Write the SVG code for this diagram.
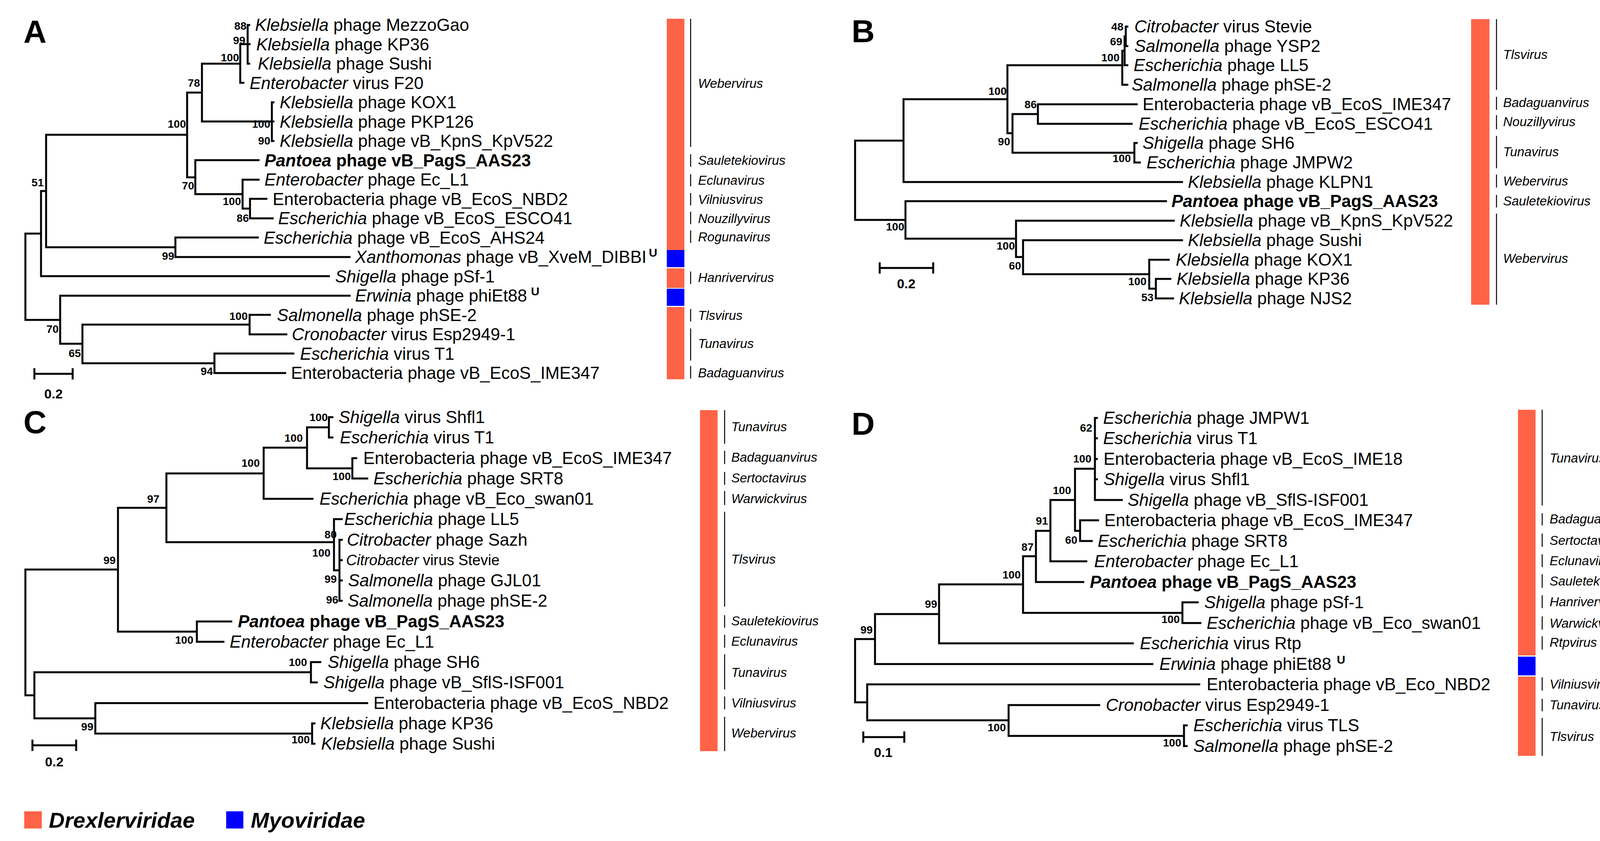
<svg xmlns="http://www.w3.org/2000/svg" width="4222" height="2153" viewBox="0 0 4222 2153">
<style>
.br{stroke:#000;stroke-width:5;fill:none;stroke-linecap:square}
.gl{stroke:#000;stroke-width:2.5}
text{font-family:"Liberation Sans",Arial,sans-serif;fill:#000}
.t{font-size:44px}
.b{font-weight:bold}
.bs{font-size:28px;font-weight:bold;text-anchor:end}
.g{font-size:33px;font-style:italic}
.pl{font-size:82px;font-weight:bold}
.sc{font-size:34px;font-weight:bold;text-anchor:middle}
.i{font-style:italic}
.u{font-weight:bold;font-size:30px}
.dx{fill:#FF6347}
.my{fill:#0000FF}
</style>
<rect width="4222" height="2153" fill="#fff"/>
<g id="connectors">
<path class="br" d="M65 598V819 M65 598H105 M65 819H154 M105 489V707 M105 489H118 M105 707H842 M118 345V633 M118 345H479 M118 633H449 M449 608V658 M449 608H660 M449 658H895 M479 237V454 M479 237H517 M479 454H500 M517 163V311 M517 163H615 M517 311H696 M615 113V212 M615 113H634 M615 212H623 M634 64V163 M634 64H638 M634 113H639 M634 163H638 M696 262V361 M696 262H700 M696 311H700 M696 361H700 M500 410V497 M500 410H662 M500 497H621 M621 460V534 M621 460H662 M621 534H640 M640 509V559 M640 509H682 M640 559H698 M154 757V880 M154 757H895 M154 880H211 M211 831V930 M211 831H639 M211 930H549 M639 806V856 M639 806H691 M639 856H733 M549 905V955 M549 905H751 M549 955H730 M88 957H186 M88 945V969 M186 945V969"/>
<path class="br" d="M2189 360V563 M2189 360H2313 M2189 563H2318 M2313 254V466 M2313 254H2579 M2313 466H3026 M2579 167V341 M2579 167H2873 M2579 341H2592 M2873 130V217 M2873 217H2886 M2873 130H2879 M2879 93V167 M2879 167H2886 M2879 93H2882 M2882 68V118 M2882 68H2886 M2882 118H2886 M2592 292V391 M2592 292H2657 M2592 391H2904 M2657 267V317 M2657 267H2910 M2657 317H2897 M2904 366V416 M2904 366H2910 M2904 416H2918 M2318 515V611 M2318 515H2985 M2318 611H2601 M2601 565V658 M2601 565H3005 M2601 658H2619 M2619 615V702 M2619 615H3026 M2619 702H2942 M2942 665V739 M2942 665H2992 M2942 739H2959 M2959 714V764 M2959 714H2996 M2959 764H3003 M2252 686H2389 M2252 674V698 M2389 674V698"/>
<path class="br" d="M65 1458V1780 M65 1458H302 M65 1780H88 M302 1300V1617 M302 1300H426 M302 1617H504 M426 1212V1388 M426 1212H675 M426 1388H855 M675 1146V1277 M675 1146H786 M675 1277H800 M786 1094V1199 M786 1094H842 M786 1199H902 M842 1068V1120 M842 1068H851 M842 1120H851 M902 1173V1225 M902 1173H912 M902 1225H940 M855 1329V1460 M855 1329H875 M855 1460H869 M869 1382V1538 M869 1382H875 M869 1434H875 M869 1486H875 M869 1538H875 M504 1591V1643 M504 1591H592 M504 1643H572 M88 1721V1839 M88 1721H796 M88 1839H244 M796 1695V1747 M796 1695H820 M796 1747H811 M244 1800V1878 M244 1800H940 M244 1878H799 M799 1852V1904 M799 1852H805 M799 1904H805 M83 1908H195 M83 1896V1920 M195 1896V1920"/>
<path class="br" d="M2189 1636V1798 M2189 1636H2240 M2189 1798H2220 M2240 1572V1700 M2240 1572H2404 M2240 1700H2950 M2404 1496V1647 M2404 1496H2619 M2404 1647H2900 M2619 1424V1569 M2619 1424H2652 M2619 1569H3027 M2652 1359V1490 M2652 1359H2689 M2652 1490H2773 M2689 1280V1437 M2689 1280H2752 M2689 1437H2781 M2752 1200V1359 M2752 1200H2803 M2752 1359H2765 M2765 1332V1385 M2765 1332H2811 M2765 1385H2795 M2803 1070V1280 M2803 1280H2872 M2803 1070H2808 M2803 1122H2808 M2803 1175H2808 M2803 1227H2808 M3027 1542V1595 M3027 1542H3066 M3027 1595H3073 M2220 1752V1844 M2220 1752H3070 M2220 1844H2582 M2582 1805V1884 M2582 1805H2814 M2582 1884H3031 M3031 1857V1910 M3031 1857H3038 M3031 1910H3038 M2210 1887H2315 M2210 1875V1899 M2315 1875V1899"/>
</g>

<g id="panelA">
<text class="pl" x="60" y="109">A</text>
<g id="A-leaves" class="t">
<text x="653" y="79"><tspan class="i">Klebsiella</tspan> phage MezzoGao</text>
<text x="656" y="129"><tspan class="i">Klebsiella</tspan> phage KP36</text>
<text x="660" y="178"><tspan class="i">Klebsiella</tspan> phage Sushi</text>
<text x="639" y="228"><tspan class="i">Enterobacter</tspan> virus F20</text>
<text x="716" y="277"><tspan class="i">Klebsiella</tspan> phage KOX1</text>
<text x="716" y="327"><tspan class="i">Klebsiella</tspan> phage PKP126</text>
<text x="716" y="376"><tspan class="i">Klebsiella</tspan> phage vB_KpnS_KpV522</text>
<text x="677" y="426" class="b"><tspan class="i">Pantoea</tspan> phage vB_PagS_AAS23</text>
<text x="677" y="475"><tspan class="i">Enterobacter</tspan> phage Ec_L1</text>
<text x="698" y="525">Enterobacteria phage vB_EcoS_NBD2</text>
<text x="712" y="574"><tspan class="i">Escherichia</tspan> phage vB_EcoS_ESCO41</text>
<text x="675" y="624"><tspan class="i">Escherichia</tspan> phage vB_EcoS_AHS24</text>
<text x="909" y="673"><tspan class="i">Xanthomonas</tspan> phage vB_XveM_DIBBI<tspan class="u" dx="6" dy="-16">U</tspan></text>
<text x="858" y="723"><tspan class="i">Shigella</tspan> phage pSf-1</text>
<text x="909" y="772"><tspan class="i">Erwinia</tspan> phage phiEt88<tspan class="u" dx="10" dy="-16">U</tspan></text>
<text x="709" y="822"><tspan class="i">Salmonella</tspan> phage phSE-2</text>
<text x="747" y="871"><tspan class="i">Cronobacter</tspan> virus Esp2949-1</text>
<text x="768" y="921"><tspan class="i">Escherichia</tspan> virus T1</text>
<text x="745" y="970">Enterobacteria phage vB_EcoS_IME347</text>
</g>
<g id="A-boot">
<text class="bs" x="631" y="76">88</text>
<text class="bs" x="628" y="113">99</text>
<text class="bs" x="612" y="157">100</text>
<text class="bs" x="512" y="222">78</text>
<text class="bs" x="476" y="327">100</text>
<text class="bs" x="692" y="327">100</text>
<text class="bs" x="692" y="370">90</text>
<text class="bs" x="497" y="485">70</text>
<text class="bs" x="617" y="525">100</text>
<text class="bs" x="637" y="568">86</text>
<text class="bs" x="112" y="477">51</text>
<text class="bs" x="446" y="665">99</text>
<text class="bs" x="634" y="819">100</text>
<text class="bs" x="150" y="852">70</text>
<text class="bs" x="207" y="914">65</text>
<text class="bs" x="545" y="960">94</text>
</g>
<text class="sc" x="137" y="1020">0.2</text>
<g id="A-bar">
<rect class="dx" x="1707" y="48" width="45" height="592"/>
<rect class="my" x="1707" y="640" width="45" height="44"/>
<rect class="dx" x="1707" y="687" width="45" height="50"/>
<rect class="my" x="1707" y="739" width="45" height="44"/>
<rect class="dx" x="1707" y="786" width="45" height="185"/>
<path class="gl" d="M1768 48V376 M1768 395V427 M1768 446V477 M1768 494V526 M1768 542V574 M1768 590V622 M1768 695V727 M1768 791V823 M1768 841V923 M1768 937V969"/>
<text class="g" x="1787" y="225">Webervirus</text>
<text class="g" x="1787" y="422">Sauletekiovirus</text>
<text class="g" x="1787" y="473">Eclunavirus</text>
<text class="g" x="1787" y="522">Vilniusvirus</text>
<text class="g" x="1787" y="571">Nouzillyvirus</text>
<text class="g" x="1787" y="618">Rogunavirus</text>
<text class="g" x="1787" y="722">Hanrivervirus</text>
<text class="g" x="1787" y="819">Tlsvirus</text>
<text class="g" x="1787" y="891">Tunavirus</text>
<text class="g" x="1787" y="966">Badaguanvirus</text>
</g>
</g>

<g id="panelB">
<text class="pl" x="2180" y="108">B</text>
<g id="B-leaves" class="t">
<text x="2904" y="83"><tspan class="i">Citrobacter</tspan> virus Stevie</text>
<text x="2904" y="133"><tspan class="i">Salmonella</tspan> phage YSP2</text>
<text x="2902" y="182"><tspan class="i">Escherichia</tspan> phage LL5</text>
<text x="2897" y="232"><tspan class="i">Salmonella</tspan> phage phSE-2</text>
<text x="2925" y="282">Enterobacteria phage vB_EcoS_IME347</text>
<text x="2915" y="332"><tspan class="i">Escherichia</tspan> phage vB_EcoS_ESCO41</text>
<text x="2925" y="381"><tspan class="i">Shigella</tspan> phage SH6</text>
<text x="2935" y="431"><tspan class="i">Escherichia</tspan> phage JMPW2</text>
<text x="3041" y="481"><tspan class="i">Klebsiella</tspan> phage KLPN1</text>
<text x="2999" y="530" class="b"><tspan class="i">Pantoea</tspan> phage vB_PagS_AAS23</text>
<text x="3020" y="580"><tspan class="i">Klebsiella</tspan> phage vB_KpnS_KpV522</text>
<text x="3041" y="630"><tspan class="i">Klebsiella</tspan> phage Sushi</text>
<text x="3010" y="680"><tspan class="i">Klebsiella</tspan> phage KOX1</text>
<text x="3012" y="729"><tspan class="i">Klebsiella</tspan> phage KP36</text>
<text x="3018" y="779"><tspan class="i">Klebsiella</tspan> phage NJS2</text>
</g>
<g id="B-boot">
<text class="bs" x="2876" y="78">48</text>
<text class="bs" x="2873" y="116">69</text>
<text class="bs" x="2866" y="157">100</text>
<text class="bs" x="2577" y="243">100</text>
<text class="bs" x="2654" y="277">86</text>
<text class="bs" x="2586" y="372">90</text>
<text class="bs" x="2895" y="415">100</text>
<text class="bs" x="2315" y="590">100</text>
<text class="bs" x="2598" y="639">100</text>
<text class="bs" x="2614" y="690">60</text>
<text class="bs" x="2935" y="730">100</text>
<text class="bs" x="2953" y="771">53</text>
</g>
<text class="sc" x="2320" y="738">0.2</text>
<g id="B-bar">
<rect class="dx" x="3766" y="49" width="47" height="731"/>
<path class="gl" d="M3831 49V230 M3831 248V281 M3831 295V331 M3831 348V431 M3831 447V480 M3831 499V531 M3831 547V780"/>
<text class="g" x="3848" y="151">Tlsvirus</text>
<text class="g" x="3848" y="274">Badaguanvirus</text>
<text class="g" x="3848" y="323">Nouzillyvirus</text>
<text class="g" x="3848" y="400">Tunavirus</text>
<text class="g" x="3848" y="475">Webervirus</text>
<text class="g" x="3848" y="526">Sauletekiovirus</text>
<text class="g" x="3848" y="673">Webervirus</text>
</g>
</g>

<g id="panelC">
<text class="pl" x="60" y="1109">C</text>
<g id="C-leaves" class="t">
<text x="867" y="1083"><tspan class="i">Shigella</tspan> virus Shfl1</text>
<text x="870" y="1135"><tspan class="i">Escherichia</tspan> virus T1</text>
<text x="930" y="1188">Enterobacteria phage vB_EcoS_IME347</text>
<text x="956" y="1240"><tspan class="i">Escherichia</tspan> phage SRT8</text>
<text x="818" y="1292"><tspan class="i">Escherichia</tspan> phage vB_Eco_swan01</text>
<text x="881" y="1344"><tspan class="i">Escherichia</tspan> phage LL5</text>
<text x="888" y="1397"><tspan class="i">Citrobacter</tspan> phage Sazh</text>
<text x="886" y="1447" font-size="38"><tspan class="i">Citrobacter</tspan> virus Stevie</text>
<text x="891" y="1501"><tspan class="i">Salmonella</tspan> phage GJL01</text>
<text x="890" y="1553"><tspan class="i">Salmonella</tspan> phage phSE-2</text>
<text x="609" y="1606" class="b"><tspan class="i">Pantoea</tspan> phage vB_PagS_AAS23</text>
<text x="588" y="1658"><tspan class="i">Enterobacter</tspan> phage Ec_L1</text>
<text x="839" y="1710"><tspan class="i">Shigella</tspan> phage SH6</text>
<text x="828" y="1762"><tspan class="i">Shigella</tspan> phage vB_SflS-ISF001</text>
<text x="956" y="1815">Enterobacteria phage vB_EcoS_NBD2</text>
<text x="820" y="1867"><tspan class="i">Klebsiella</tspan> phage KP36</text>
<text x="822" y="1919"><tspan class="i">Klebsiella</tspan> phage Sushi</text>
</g>
<g id="C-boot">
<text class="bs" x="839" y="1078">100</text>
<text class="bs" x="775" y="1131">100</text>
<text class="bs" x="665" y="1195">100</text>
<text class="bs" x="898" y="1229">100</text>
<text class="bs" x="408" y="1287">97</text>
<text class="bs" x="296" y="1444">99</text>
<text class="bs" x="862" y="1378">80</text>
<text class="bs" x="846" y="1425">100</text>
<text class="bs" x="862" y="1492">99</text>
<text class="bs" x="866" y="1545">96</text>
<text class="bs" x="495" y="1648">100</text>
<text class="bs" x="786" y="1705">100</text>
<text class="bs" x="239" y="1870">99</text>
<text class="bs" x="793" y="1903">100</text>
</g>
<text class="sc" x="139" y="1962">0.2</text>
<g id="C-bar">
<rect class="dx" x="1792" y="1050" width="45" height="873"/>
<path class="gl" d="M1855 1050V1136 M1855 1154V1188 M1855 1208V1241 M1855 1257V1293 M1855 1310V1553 M1855 1575V1607 M1855 1625V1658 M1855 1675V1765 M1855 1783V1816 M1855 1835V1923"/>
<text class="g" x="1872" y="1104">Tunavirus</text>
<text class="g" x="1872" y="1182">Badaguanvirus</text>
<text class="g" x="1872" y="1235">Sertoctavirus</text>
<text class="g" x="1872" y="1288">Warwickvirus</text>
<text class="g" x="1872" y="1443">Tlsvirus</text>
<text class="g" x="1872" y="1601">Sauletekiovirus</text>
<text class="g" x="1872" y="1653">Eclunavirus</text>
<text class="g" x="1872" y="1733">Tunavirus</text>
<text class="g" x="1872" y="1811">Vilniusvirus</text>
<text class="g" x="1872" y="1888">Webervirus</text>
</g>
</g>

<g id="panelD">
<text class="pl" x="2180" y="1113">D</text>
<g id="D-leaves" class="t">
<text x="2824" y="1085"><tspan class="i">Escherichia</tspan> phage JMPW1</text>
<text x="2824" y="1137"><tspan class="i">Escherichia</tspan> virus T1</text>
<text x="2825" y="1190">Enterobacteria phage vB_EcoS_IME18</text>
<text x="2825" y="1242"><tspan class="i">Shigella</tspan> virus Shfl1</text>
<text x="2887" y="1295"><tspan class="i">Shigella</tspan> phage vB_SflS-ISF001</text>
<text x="2827" y="1347">Enterobacteria phage vB_EcoS_IME347</text>
<text x="2810" y="1400"><tspan class="i">Escherichia</tspan> phage SRT8</text>
<text x="2801" y="1452"><tspan class="i">Enterobacter</tspan> phage Ec_L1</text>
<text x="2790" y="1505" class="b"><tspan class="i">Pantoea</tspan> phage vB_PagS_AAS23</text>
<text x="3083" y="1557"><tspan class="i">Shigella</tspan> phage pSf-1</text>
<text x="3089" y="1610"><tspan class="i">Escherichia</tspan> phage vB_Eco_swan01</text>
<text x="2918" y="1662"><tspan class="i">Escherichia</tspan> virus Rtp</text>
<text x="2968" y="1715"><tspan class="i">Erwinia</tspan> phage phiEt88<tspan class="u" dx="14" dy="-16">U</tspan></text>
<text x="3089" y="1767">Enterobacteria phage vB_Eco_NBD2</text>
<text x="2831" y="1820"><tspan class="i">Cronobacter</tspan> virus Esp2949-1</text>
<text x="3055" y="1872"><tspan class="i">Escherichia</tspan> virus TLS</text>
<text x="3055" y="1925"><tspan class="i">Salmonella</tspan> phage phSE-2</text>
</g>
<g id="D-boot">
<text class="bs" x="2796" y="1105">62</text>
<text class="bs" x="2794" y="1184">100</text>
<text class="bs" x="2742" y="1265">100</text>
<text class="bs" x="2683" y="1343">91</text>
<text class="bs" x="2758" y="1392">60</text>
<text class="bs" x="2646" y="1410">87</text>
<text class="bs" x="2613" y="1481">100</text>
<text class="bs" x="2399" y="1556">99</text>
<text class="bs" x="2234" y="1622">99</text>
<text class="bs" x="3020" y="1595">100</text>
<text class="bs" x="2575" y="1872">100</text>
<text class="bs" x="3024" y="1911">100</text>
</g>
<text class="sc" x="2261" y="1938">0.1</text>
<g id="D-bar">
<rect class="dx" x="3886" y="1049" width="45" height="629"/>
<rect class="my" x="3886" y="1681" width="45" height="48"/>
<rect class="dx" x="3886" y="1732" width="45" height="203"/>
<path class="gl" d="M3948 1049V1294 M3948 1314V1345 M3948 1366V1400 M3948 1419V1452 M3948 1470V1505 M3948 1524V1557 M3948 1578V1612 M3948 1629V1663 M3948 1734V1768 M3948 1789V1821 M3948 1838V1935"/>
<text class="g" x="3967" y="1184">Tunavirus</text>
<text class="g" x="3967" y="1340">Badaguanvirus</text>
<text class="g" x="3967" y="1395">Sertoctavirus</text>
<text class="g" x="3967" y="1447">Eclunavirus</text>
<text class="g" x="3967" y="1499">Sauletekiovirus</text>
<text class="g" x="3967" y="1552">Hanrivervirus</text>
<text class="g" x="3967" y="1607">Warwickvirus</text>
<text class="g" x="3967" y="1656">Rtpvirus</text>
<text class="g" x="3967" y="1763">Vilniusvirus</text>
<text class="g" x="3967" y="1816">Tunavirus</text>
<text class="g" x="3967" y="1897">Tlsvirus</text>
</g>
</g>

<g id="legend">
<rect class="dx" x="62" y="2077" width="45" height="44"/>
<text x="125" y="2119" font-size="56" font-weight="bold" font-style="italic">Drexlerviridae</text>
<rect class="my" x="579" y="2077" width="44" height="44"/>
<text x="642" y="2119" font-size="56" font-weight="bold" font-style="italic">Myoviridae</text>
</g>
</svg>
